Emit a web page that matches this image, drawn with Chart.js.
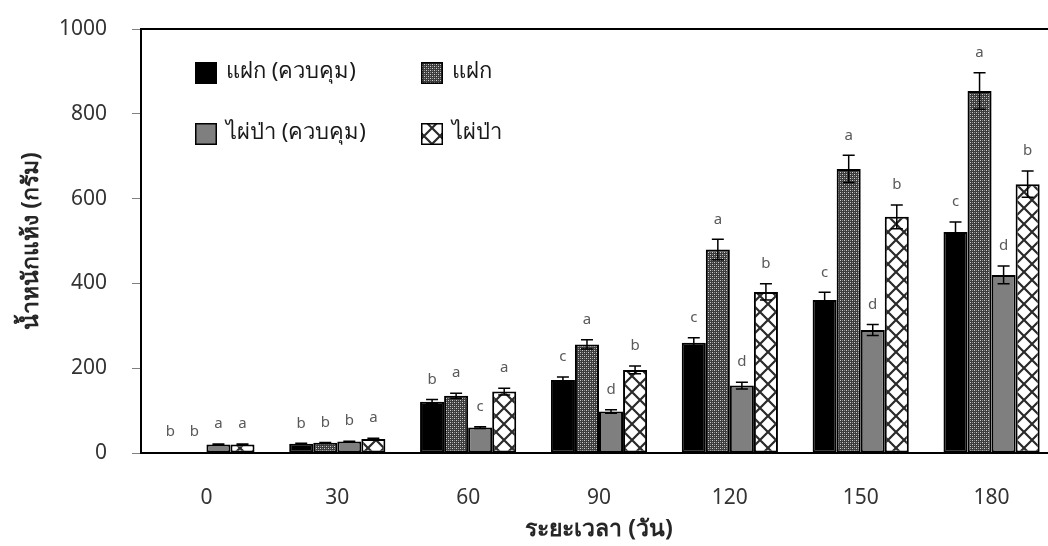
<!DOCTYPE html>
<html>
<head>
<meta charset="utf-8">
<script src="https://cdn.jsdelivr.net/npm/chart.js@4.4.1/dist/chart.umd.min.js"></script>
<style>
	html, body { margin: 0; padding: 0; background: #fff; overflow: hidden; }
	.wrapper-chart { width: 1048px; height: 546px; overflow: hidden; position: relative; }
</style>
</head>
<body>
<div class="wrapper-chart">
	<canvas id="biomass-bar-chart" width="1070" height="546"></canvas>
</div>
<script>
// data
var days = ["0", "30", "60", "90", "120", "150", "180"];
var seriesNames = ["แฝก (ควบคุม)", "แฝก", "ไผ่ป่า (ควบคุม)", "ไผ่ป่า"];

var vetiverControl = [2, 22, 121, 172, 260, 361, 521];
var vetiver = [2, 24, 135, 256, 480, 670, 854];
var bambooControl = [20, 27, 60, 98, 159, 290, 420];
var bamboo = [20, 33, 145, 196, 380, 557, 634];

var vetiverControlErr = [0, 1, 5, 7, 12, 18, 24];
var vetiverErr = [0, 1, 6, 11, 24, 32, 43];
var bambooControlErr = [1, 1, 2, 4, 8, 13, 21];
var bambooErr = [1, 2, 8, 9, 19, 28, 31];

var vetiverControlLetters = ["b", "b", "b", "c", "c", "c", "c"];
var vetiverLetters = ["b", "b", "a", "a", "a", "a", "a"];
var bambooControlLetters = ["a", "b", "c", "d", "d", "d", "d"];
var bambooLetters = ["a", "a", "a", "b", "b", "b", "b"];

var yTicks = [0, 200, 400, 600, 800, 1000];

var FONT = "'Noto Sans', 'Open Sans', sans-serif";

// dark dotted fill like the excel pattern
var makeDotPattern = function () {
	var c = document.createElement("canvas");
	c.width = 4;
	c.height = 4;
	var x = c.getContext("2d");
	x.fillStyle = "#3c3c3c";
	x.fillRect(0, 0, 4, 4);
	x.fillStyle = "#d0d0d0";
	x.fillRect(0, 0, 1, 1);
	x.fillRect(2, 2, 1, 1);
	x.fillStyle = "#8a8a8a";
	x.fillRect(2, 0, 1, 1);
	x.fillRect(0, 2, 1, 1);
	return x.createPattern(c, "repeat");
};

// big diamond lattice on white
var makeCrossPattern = function () {
	var s = 16;
	var c = document.createElement("canvas");
	c.width = s;
	c.height = s;
	var x = c.getContext("2d");
	x.fillStyle = "#ffffff";
	x.fillRect(0, 0, s, s);
	x.strokeStyle = "#2a2a2a";
	x.lineWidth = 2.2;
	x.beginPath();
	x.moveTo(-2, -2);
	x.lineTo(s + 2, s + 2);
	x.moveTo(s + 2, -2);
	x.lineTo(-2, s + 2);
	x.stroke();
	return x.createPattern(c, "repeat");
};

var errorsAndLetters = {
	id: "errorsAndLetters",
	afterDatasetsDraw: function (chart) {
		var ctx = chart.ctx;
		var y = chart.scales.y;
		ctx.save();
		chart.data.datasets.forEach(function (ds, i) {
			var meta = chart.getDatasetMeta(i);
			meta.data.forEach(function (bar, j) {
				var v = ds.data[j];
				var e = ds.errors[j];
				var top = y.getPixelForValue(v + e);
				var bot = y.getPixelForValue(Math.max(v - e, 0));
				if (e > 0) {
					ctx.strokeStyle = "#000";
					ctx.lineWidth = 1.5;
					ctx.beginPath();
					ctx.moveTo(bar.x, top);
					ctx.lineTo(bar.x, bot);
					ctx.moveTo(bar.x - 6, top);
					ctx.lineTo(bar.x + 6, top);
					ctx.moveTo(bar.x - 6, bot);
					ctx.lineTo(bar.x + 6, bot);
					ctx.stroke();
				}
				ctx.fillStyle = "#595959";
				ctx.font = "15px " + FONT;
				ctx.textAlign = "center";
				ctx.textBaseline = "middle";
				ctx.fillText(ds.letters[j], bar.x, top - 20);
			});
		});
		ctx.restore();
	}
};

var frameAndLegend = {
	id: "frameAndLegend",
	afterDraw: function (chart) {
		var ctx = chart.ctx;
		var a = chart.chartArea;
		ctx.save();
		ctx.strokeStyle = "#000";
		ctx.lineWidth = 2;
		ctx.beginPath();
		ctx.moveTo(a.left - 1, a.top);
		ctx.lineTo(a.right, a.top);
		ctx.lineTo(a.right, a.bottom);
		ctx.stroke();

		// 2 x 2 legend in the top left of the plot
		var spots = [[195, 62], [421, 62], [195, 123], [421, 123]];
		ctx.font = "22px " + FONT;
		ctx.textAlign = "left";
		ctx.textBaseline = "middle";
		chart.data.datasets.forEach(function (ds, i) {
			var p = spots[i];
			ctx.fillStyle = ds.backgroundColor;
			ctx.fillRect(p[0], p[1], 22, 22);
			ctx.lineWidth = 1.5;
			ctx.strokeStyle = "#000";
			ctx.strokeRect(p[0] + 0.75, p[1] + 0.75, 20.5, 20.5);
			ctx.fillStyle = "#1a1a1a";
			ctx.fillText(ds.label, p[0] + 31, p[1] + 10);
		});
		ctx.restore();
	}
};

var handleBiomassChart = function () {
	var ctx = document.getElementById("biomass-bar-chart").getContext("2d");

	var datany = {
		labels: days,
		datasets: [
			{ label: seriesNames[0], data: vetiverControl, errors: vetiverControlErr, letters: vetiverControlLetters, backgroundColor: "#000000" },
			{ label: seriesNames[1], data: vetiver, errors: vetiverErr, letters: vetiverLetters, backgroundColor: makeDotPattern() },
			{ label: seriesNames[2], data: bambooControl, errors: bambooControlErr, letters: bambooControlLetters, backgroundColor: "#7f7f7f" },
			{ label: seriesNames[3], data: bamboo, errors: bambooErr, letters: bambooLetters, backgroundColor: makeCrossPattern() },
		],
	};
	datany.datasets.forEach(function (ds) {
		ds.borderColor = "#000";
		ds.borderWidth = 2;
		ds.borderSkipped = false;
		ds.categoryPercentage = 0.735;
		ds.barPercentage = 1.0;
	});

	var myChart = new Chart(ctx, {
		type: "bar",
		data: datany,
		options: {
			responsive: false,
			animation: false,
			devicePixelRatio: 1,
			layout: { padding: { top: 29, right: 13, left: 0, bottom: 0 } },
			plugins: {
				legend: { display: false },
				tooltip: { enabled: false },
			},
			scales: {
				x: {
					grid: { display: false },
					border: { display: true, color: "#000", width: 2 },
					ticks: { color: "#333333", font: { family: FONT, size: 21 }, padding: 24 },
					title: {
						display: true,
						text: "ระยะเวลา (วัน)",
						color: "#262626",
						font: { family: FONT, size: 23, weight: "bold" },
						padding: { top: 0, bottom: 3 },
					},
					afterFit: function (scale) { scale.height = 93; },
				},
				y: {
					min: 0,
					max: 1000,
					afterBuildTicks: function (scale) {
						scale.ticks = yTicks.map(function (v) { return { value: v }; });
					},
					grid: { drawOnChartArea: false, drawTicks: true, tickLength: 9, tickColor: "#808080", lineWidth: 1 },
					border: { display: true, color: "#000", width: 2 },
					ticks: {
						color: "#333333",
						font: { family: FONT, size: 21 },
						padding: 25,
						callback: function (v) { return String(v); },
					},
					title: {
						display: true,
						text: "น้ำหนักแห้ง (กรัม)",
						color: "#262626",
						font: { family: FONT, size: 23, weight: "bold" },
						padding: { top: 18, bottom: 0 },
					},
					afterFit: function (scale) {
						scale.width = 141;
						scale.paddingTop = 0;
						scale.paddingBottom = 0;
					},
				},
			},
		},
		plugins: [errorsAndLetters, frameAndLegend],
	});

	return myChart;
};

handleBiomassChart();
</script>
</body>
</html>
